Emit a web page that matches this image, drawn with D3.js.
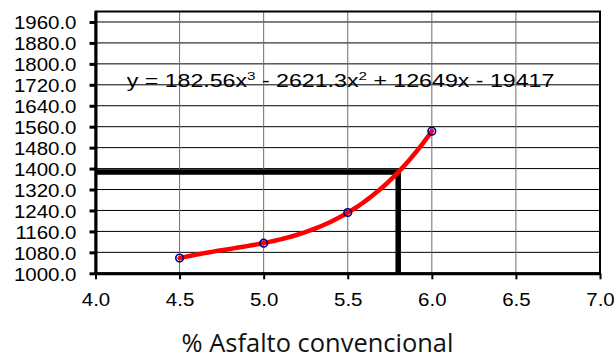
<!DOCTYPE html>
<html>
<head>
<meta charset="utf-8">
<script src="https://cdn.jsdelivr.net/npm/d3@7"></script>
<style>
  html, body { margin: 0; padding: 0; background: #fff; }
  svg { display: block; }
</style>
</head>
<body>
<svg id="chart" width="616" height="357"></svg>
<script>
// Asphalt content (%) and measured unit weight
const asphaltPct = [4.5, 5.0, 5.5, 6.0];
const unitWeight = [1058, 1115, 1232, 1543];

// Cubic trend: y = a3 x^3 + a2 x^2 + a1 x + a0
const trendCoef = [182.56, -2621.3, 12649, -19417];
const trendLabel = ["y = 182.56x", "3", " - 2621.3x", "2", " + 12649x - 19417"];

// Design point
const designPct = [5.8];
const designWeight = [1387];

// Axis ticks
const xTicks = [4.0, 4.5, 5.0, 5.5, 6.0, 6.5, 7.0];
const yTicks = [1000, 1080, 1160, 1240, 1320, 1400, 1480, 1560, 1640, 1720, 1800, 1880, 1960];
const xTitle = "% Asfalto convencional";

const svg = d3.select("#chart");
const plotLeft = 95.5, plotRight = 600, plotTop = 11.5, plotBottom = 273.3;

const x = d3.scaleLinear().domain([4, 7]).range([plotLeft, plotRight]);
const y = d3.scaleLinear().domain([1000, 2000]).range([plotBottom, plotTop]);

const stretch = 1.1;

// grid
const grid = svg.append("g");
grid.selectAll("line.h").data(yTicks.slice(1)).join("line")
  .attr("class", "h")
  .attr("x1", plotLeft).attr("x2", plotRight)
  .attr("y1", d => y(d)).attr("y2", d => y(d))
  .attr("stroke", "#000").attr("stroke-width", 1);
grid.selectAll("line.v").data(xTicks.slice(1, -1)).join("line")
  .attr("class", "v")
  .attr("x1", d => x(d)).attr("x2", d => x(d))
  .attr("y1", plotTop).attr("y2", plotBottom)
  .attr("stroke", "#6e6e6e").attr("stroke-width", 1);

// frame
svg.append("rect")
  .attr("x", plotLeft).attr("y", plotTop)
  .attr("width", plotRight - plotLeft).attr("height", plotBottom - plotTop)
  .attr("fill", "none").attr("stroke", "#000").attr("stroke-width", 2);

// equation label
const eq = svg.append("text")
  .attr("font-family", "'Liberation Sans', Arial, sans-serif")
  .attr("font-size", 17.5)
  .attr("fill", "#000");
trendLabel.forEach((t, i) => {
  const sup = i % 2 === 1;
  eq.append("tspan")
    .attr("font-size", sup ? 11.5 : 17.5)
    .attr("dy", sup ? -7 : (i > 0 ? 7 : 0))
    .text(t);
});
const eqW = eq.node().getComputedTextLength();
eq.attr("transform", `translate(126.7,87) scale(${428 / eqW},1)`);

// design lines
const path = d3.line().x(d => x(d[0])).y(d => y(d[1]));
svg.append("path")
  .attr("d", path([[4, designWeight[0]], [designPct[0], designWeight[0]], [designPct[0], 1000]]))
  .attr("fill", "none").attr("stroke", "#000")
  .attr("stroke-width", 5.5).attr("stroke-linejoin", "round");

// trend curve from the equation coefficients
const poly = v => trendCoef[0] * v ** 3 + trendCoef[1] * v ** 2 + trendCoef[2] * v + trendCoef[3];
const xs = d3.range(asphaltPct[0], asphaltPct[asphaltPct.length - 1] + 1e-9, 0.02);
svg.append("path")
  .attr("d", path(xs.map(v => [v, poly(v)])))
  .attr("fill", "none").attr("stroke", "#ff0000")
  .attr("stroke-width", 4.5).attr("stroke-linecap", "round");

// measured points
svg.selectAll("circle.pt").data(asphaltPct).join("circle")
  .attr("class", "pt")
  .attr("cx", d => x(d))
  .attr("cy", (d, i) => y(unitWeight[i]))
  .attr("r", 3.8)
  .attr("fill", "none").attr("stroke", "#00008b").attr("stroke-width", 1.6);

// axes
const yAxis = svg.append("g")
  .attr("transform", `translate(${plotLeft},0)`)
  .call(d3.axisLeft(y).tickValues(yTicks).tickFormat(d3.format(".1f")).tickSize(6).tickSizeOuter(0));
const xAxis = svg.append("g")
  .attr("transform", `translate(0,${plotBottom})`)
  .call(d3.axisBottom(x).tickValues(xTicks).tickFormat(d3.format(".1f")).tickSize(6).tickSizeOuter(0));

[yAxis, xAxis].forEach(g => {
  g.select(".domain").attr("stroke", "#000").attr("stroke-width", 3);
  g.selectAll(".tick line").attr("stroke", "#000").attr("stroke-width", 2);
  g.selectAll("text")
    .attr("font-family", "'Liberation Sans', Arial, sans-serif")
    .attr("font-size", 18.6).attr("fill", "#000");
});
yAxis.selectAll(".tick line").attr("stroke-width", 3);
yAxis.selectAll("text")
  .attr("x", -19 / stretch).attr("dy", "0.37em")
  .attr("transform", `scale(${stretch},1)`);
xAxis.selectAll("text")
  .attr("y", 32.4).attr("dy", 0)
  .attr("transform", `scale(${stretch},1)`);

// x title
const title = svg.append("text")
  .attr("font-family", "'Open Sans', Lato, sans-serif")
  .attr("font-size", 25).attr("fill", "#111")
  .attr("text-anchor", "middle")
  .text(xTitle);
const tW = title.node().getComputedTextLength();
title.attr("transform", `translate(317.5,352) scale(${272 / tW},1)`);
</script>
</body>
</html>
